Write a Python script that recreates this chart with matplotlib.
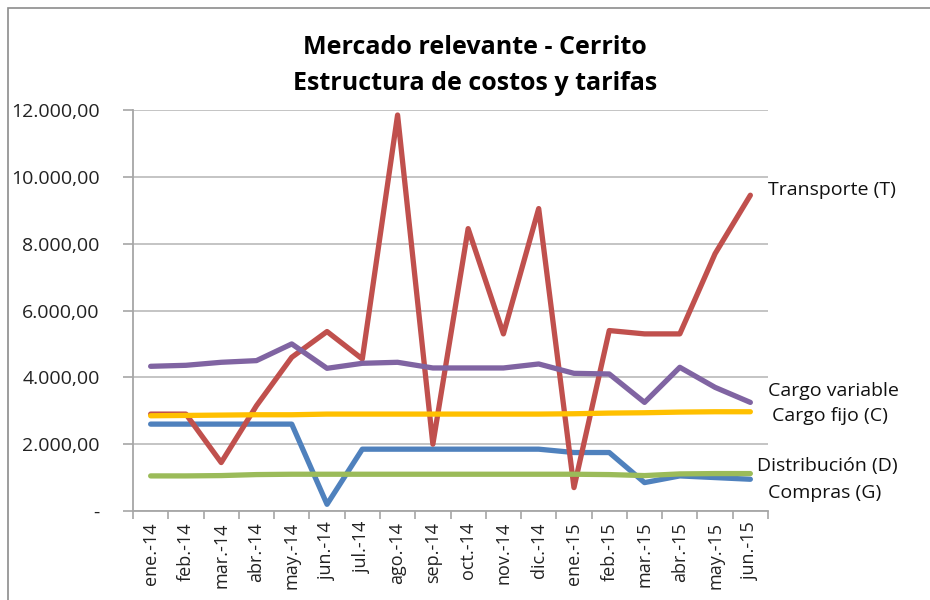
import numpy as np
import matplotlib.pyplot as plt
from matplotlib.patches import Rectangle
from matplotlib.ticker import FixedLocator, FuncFormatter

plt.rcParams['font.family'] = ['Open Sans', 'DejaVu Sans']

# datos
meses = ['ene.-14', 'feb.-14', 'mar.-14', 'abr.-14', 'may.-14', 'jun.-14',
         'jul.-14', 'ago.-14', 'sep.-14', 'oct.-14', 'nov.-14', 'dic.-14',
         'ene.-15', 'feb.-15', 'mar.-15', 'abr.-15', 'may.-15', 'jun.-15']

compras = [2600, 2600, 2600, 2600, 2600, 200, 1850, 1850, 1850,
           1850, 1850, 1850, 1750, 1750, 850, 1050, 1000, 950]
transporte = [2900, 2900, 1450, 3150, 4600, 5370, 4550, 11850, 2000,
              8450, 5300, 9050, 700, 5400, 5300, 5300, 7700, 9450]
distribucion = [1050, 1050, 1060, 1090, 1100, 1100, 1100, 1100, 1100,
                1100, 1100, 1100, 1100, 1090, 1060, 1110, 1120, 1120]
cargo_variable = [4330, 4360, 4450, 4500, 5000, 4270, 4420, 4450, 4280,
                  4280, 4280, 4400, 4120, 4100, 3250, 4300, 3700, 3250]
cargo_fijo = [2850, 2860, 2870, 2880, 2880, 2900, 2900, 2900, 2900,
              2900, 2900, 2900, 2910, 2930, 2940, 2960, 2970, 2970]

yticks = [0, 2000, 4000, 6000, 8000, 10000, 12000]

#-------------------------------------------------
W, H = 930, 600
fig = plt.figure(figsize=(W / 100, H / 100), dpi=100)

# borde del area del grafico (cortado a la derecha y abajo)
fig.patches.append(Rectangle((8 / W, -0.1), 1.2, 1 - 8 / H + 0.1,
                             transform=fig.transFigure, fill=False,
                             edgecolor='#8c8c8c', linewidth=1.2))

ax = fig.add_axes([133 / W, 1 - 511 / H, (768 - 133) / W, (511 - 110) / H])

x = np.arange(len(meses))
lw = 3.8
ax.plot(x, compras, color='#4F81BD', linewidth=lw, solid_capstyle='round', zorder=3)
ax.plot(x, transporte, color='#C0504D', linewidth=lw, solid_capstyle='round', zorder=3)
ax.plot(x, distribucion, color='#9BBB59', linewidth=lw, solid_capstyle='round', zorder=3)
ax.plot(x, cargo_variable, color='#8064A2', linewidth=lw, solid_capstyle='round', zorder=3)
ax.plot(x, cargo_fijo, color='#FFC000', linewidth=lw, solid_capstyle='round', zorder=3)

ax.set_xlim(-0.5, len(meses) - 0.5)
ax.set_ylim(0, 12000)

# ejes y grilla
for s in ['top', 'right']:
    ax.spines[s].set_visible(False)
for s in ['left', 'bottom']:
    ax.spines[s].set_color('#a6a6a6')
    ax.spines[s].set_linewidth(1.3)

ax.yaxis.set_major_locator(FixedLocator(yticks))
ax.yaxis.set_major_formatter(FuncFormatter(
    lambda v, p: '-' if v == 0 else f'{v:,.2f}'.replace(',', 'X').replace('.', ',').replace('X', '.')))
ax.yaxis.grid(True, color='#bfbfbf', linewidth=1.3)
ax.set_axisbelow(True)
ax.tick_params(axis='y', length=7, color='#a6a6a6', width=1.2, pad=17,
               labelsize=14, labelcolor='#222222')

ax.set_xticks(x)
ax.set_xticklabels(meses, rotation=90, fontsize=13, color='#222222')
ax.set_xticks(np.arange(-0.5, len(meses), 1), minor=True)
ax.tick_params(axis='x', which='major', length=0, pad=8)
ax.tick_params(axis='x', which='minor', length=6, color='#a6a6a6', width=1.2)

# titulo
fig.text(475 / W, 1 - 47 / H, 'Mercado relevante - Cerrito', ha='center', va='center',
         fontsize=18, fontweight='bold')
fig.text(475 / W, 1 - 84 / H, 'Estructura de costos y tarifas', ha='center', va='center',
         fontsize=18, fontweight='bold')

# etiquetas de las series
etiquetas = [('Transporte (T)', 768, 190),
             ('Cargo variable', 768, 391),
             ('Cargo fijo (C)', 772, 416),
             ('Distribución (D)', 757, 466),
             ('Compras (G)', 768, 493)]
for txt, px, py in etiquetas:
    fig.text(px / W, 1 - py / H, txt, ha='left', va='center', fontsize=14, color='#111111')

fig.savefig('out.png', dpi=100)
